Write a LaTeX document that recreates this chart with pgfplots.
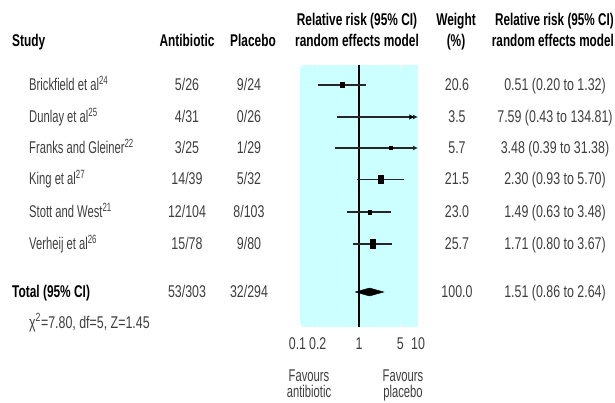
\documentclass[border=0pt]{standalone}
\usepackage{pgfplots}
\pgfplotsset{compat=1.18}
\usepackage{fontspec}
\setmainfont{Liberation Sans}[FakeStretch=0.66]
\newfontfamily\numfont{Liberation Sans}[FakeStretch=0.73]
\newfontfamily\hdfont{Liberation Sans}[FakeStretch=0.70]
\newfontfamily\hdnfont{Liberation Sans}[FakeStretch=0.69]
\usetikzlibrary{arrows.meta}
\definecolor{panel}{RGB}{204,255,255}
\definecolor{txt}{RGB}{62,62,62}
\newcommand\fs{\fontsize{17}{19}\selectfont}
% text helpers: x, baseline y (pixels from top-left), content
\newcommand\TL[3]{\node[anchor=base west,inner sep=0pt,text=txt,font=\fs] at (#1pt,-#2pt) {#3};}
\newcommand\TC[3]{\node[anchor=base,inner sep=0pt,text=txt,font=\numfont\fs] at (#1pt,-#2pt) {#3};}
\newcommand\TT[3]{\node[anchor=base,inner sep=0pt,text=txt,font=\fs] at (#1pt,-#2pt) {#3};}
\newcommand\HC[3]{\node[anchor=base,inner sep=0pt,font=\hdfont\bfseries\fs] at (#1pt,-#2pt) {#3};}
\newcommand\HL[3]{\node[anchor=base west,inner sep=0pt,font=\hdfont\bfseries\fs] at (#1pt,-#2pt) {#3};}
\begin{document}
\begin{tikzpicture}
\useasboundingbox (0,0) rectangle (615pt,-403pt);
\begin{axis}[
  at={(300pt,-327pt)}, anchor=south west,
  scale only axis, width=118pt, height=262pt,
  xmode=log, xmin=0.1, xmax=10,
  ymin=65, ymax=327, y dir=reverse,
  axis background/.style={fill=panel},
  axis line style={draw=none},
  ytick=\empty,
  xtick={0.1,0.2,1,5,10},
  xticklabels={\hspace*{-5pt}0.1,0.2,1,5,10},
  major tick length=3pt,
  tick style={white, line width=0.8pt},
  xticklabel style={font=\numfont\fs, text=txt, yshift=-7pt},
  clip=false,
]
% line of no effect
\addplot[black, line width=1.3pt] coordinates {(1,65) (1,327)};
% confidence intervals
\addplot[black!85, line width=1.3pt] coordinates {(0.20,85) (1.32,85)};
\addplot[black!85, line width=1.3pt, -{Latex[length=5pt,width=5pt]}] coordinates {(0.43,117) (10,117)}; % upper 134.81
\addplot[black!85, line width=1.3pt, -{Latex[length=5pt,width=5pt]}] coordinates {(0.39,148) (10,148)}; % upper 31.38
\addplot[black!85, line width=1.3pt] coordinates {(0.93,179.5) (5.70,179.5)};
\addplot[black!85, line width=1.3pt] coordinates {(0.63,212) (3.48,212)};
\addplot[black!85, line width=1.3pt] coordinates {(0.80,244) (3.67,244)};
% point estimates
\addplot[only marks, mark=square*, mark size=2.5pt, mark options={xscale=0.8}] coordinates {(0.51,85)};
\addplot[only marks, mark=triangle*, mark size=2.5pt, mark options={rotate=-90}] coordinates {(7.59,117)};
\addplot[only marks, mark=square*, mark size=1.5pt] coordinates {(3.48,148)};
\addplot[only marks, mark=square*, mark size=4pt, mark options={xscale=0.65}] coordinates {(2.30,179.5)};
\addplot[only marks, mark=square*, mark size=2pt, mark options={xscale=0.75}] coordinates {(1.49,212)};
\addplot[only marks, mark=square*, mark size=4.5pt, mark options={xscale=0.6}] coordinates {(1.71,244)};
% pooled estimate
\addplot[fill=black, draw=black] coordinates {(0.86,292) (1.51,288) (2.64,292) (1.51,296) (0.86,292)};
\end{axis}
% headers
\HL{12}{47}{Study}
\HC{187}{47}{Antibiotic}
\HC{253}{47}{Placebo}
\HC{357}{26}{Relative risk (95\% CI)}
\HC{357}{47}{random effects model}
\HC{456}{26}{Weight}
\HC{456}{47}{(\%)}
\node[anchor=base east,inner sep=0pt,font=\hdnfont\bfseries\fs] at (614pt,-26pt) {Relative risk (95\% CI)};
\node[anchor=base east,inner sep=0pt,font=\hdnfont\bfseries\fs] at (614pt,-47pt) {random effects model};
% studies
\TL{29}{91}{Brickfield et al\textsuperscript{24}}
\TL{29}{122.5}{Dunlay et al\textsuperscript{25}}
\TL{29}{154}{Franks and Gleiner\textsuperscript{22}}
\TL{29}{185}{King et al\textsuperscript{27}}
\TL{29}{217.5}{Stott and West\textsuperscript{21}}
\TL{29}{249.5}{Verheij et al\textsuperscript{26}}
\HL{12}{297.5}{Total (95\% CI)}
\node[anchor=base west,inner sep=0pt,text=txt,font=\numfont\fs] at (29pt,-328pt) {χ\textsuperscript{2}=7.80, df=5, Z=1.45};
% antibiotic
\TC{187}{91}{5/26}
\TC{187}{122.5}{4/31}
\TC{187}{154}{3/25}
\TC{187}{185}{14/39}
\TC{187}{217.5}{12/104}
\TC{187}{249.5}{15/78}
\TC{187}{297.5}{53/303}
% placebo
\TC{249}{91}{9/24}
\TC{249}{122.5}{0/26}
\TC{249}{154}{1/29}
\TC{249}{185}{5/32}
\TC{249}{217.5}{8/103}
\TC{249}{249.5}{9/80}
\TC{249}{297.5}{32/294}
% weight
\TC{457}{91}{20.6}
\TC{457}{122.5}{3.5}
\TC{457}{154}{5.7}
\TC{457}{185}{21.5}
\TC{457}{217.5}{23.0}
\TC{457}{249.5}{25.7}
\TC{457}{297.5}{100.0}
% RR
\TC{555}{91}{0.51 (0.20 to 1.32)}
\TC{555}{122.5}{7.59 (0.43 to 134.81)}
\TC{555}{154}{3.48 (0.39 to 31.38)}
\TC{555}{185}{2.30 (0.93 to 5.70)}
\TC{555}{217.5}{1.49 (0.63 to 3.48)}
\TC{555}{249.5}{1.71 (0.80 to 3.67)}
\TC{555}{297.5}{1.51 (0.86 to 2.64)}
% favours
\TT{309}{381}{Favours}
\TT{309}{397}{antibiotic}
\TT{403}{381}{Favours}
\TT{403}{397}{placebo}
\end{tikzpicture}
\end{document}
